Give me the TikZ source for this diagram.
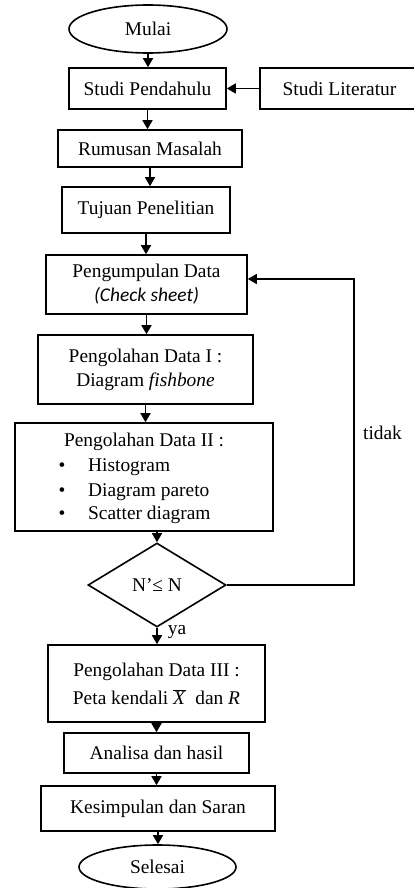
\documentclass[tikz,border=0pt]{standalone}
\usepackage{fontspec}
\setmainfont{Liberation Serif}
\newfontfamily\sheetfont{Carlito}
\usetikzlibrary{arrows.meta,shapes.geometric,calc}

\begin{document}
\begin{tikzpicture}[x=1pt,y=-1pt,
  font=\fontsize{19.4}{24}\selectfont,
  proses/.style={draw,line width=1.6pt,inner sep=0pt},
  ujung/.style={draw,ellipse,line width=1.6pt,inner sep=0pt},
  panah/.style={line width=1.6pt,-{Triangle[length=9pt,width=10pt]}}]
\useasboundingbox (0,0) rectangle (414,888);

\node[ujung,minimum width=158pt,minimum height=48pt] (mulai) at (148,29) {Mulai};
\node[proses,minimum width=157pt,minimum height=41pt] (pendahulu) at (147.5,88.5) {Studi Pendahulu};
\node[proses,minimum width=159pt,minimum height=41pt] (literatur) at (339.5,88.5) {Studi Literatur};
\node[proses,minimum width=184pt,minimum height=37pt] (rumusan) at (150,148.5) {Rumusan Masalah};
\node[proses,minimum width=168pt,minimum height=46pt] (tujuan) at (146,210) {Tujuan Penelitian};
\node[proses,minimum width=201pt,minimum height=59pt,align=center] (kumpul) at (146.5,284.5)
  {Pengumpulan Data\\{\sheetfont\itshape (Check sheet)}};
\node[proses,minimum width=215pt,minimum height=69pt,align=center] (olah1) at (145.5,369.5)
  {Pengolahan Data I :\\Diagram \textit{fishbone}};
\node[proses,minimum width=258pt,minimum height=108pt] (olah2) at (144,477) {};
\node (judul2) at (144,442) {Pengolahan Data II :};
\foreach \y/\isi in {467/Histogram,492/Diagram pareto,515/Scatter diagram}{
  \node (b\y) at (62,\y) {\textbullet};
  \node[anchor=west,inner sep=0pt] (t\y) at (88,\y) {\isi};
}
\node[draw,diamond,aspect=1.64,line width=1.6pt,inner sep=0pt,
  minimum width=138pt,minimum height=84pt] (cek) at (157,585) {N’≤ N};
\node[proses,minimum width=217pt,minimum height=77pt,align=center] (olah3) at (156.5,683.5)
  {Pengolahan Data III :\\[4pt]Peta kendali $\overline{\mbox{\textit{X}}}$\ \ dan \textit{R}};
\node[proses,minimum width=185pt,minimum height=40pt] (analisa) at (156.5,753) {Analisa dan hasil};
\node[proses,minimum width=234pt,minimum height=45pt] (simpul) at (158,808.5) {Kesimpulan dan Saran};
\node[ujung,minimum width=157pt,minimum height=44pt] (selesai) at (157.5,867) {Selesai};

\node (ya) at (177,632) {ya};
\node (tidak) at (382.5,433) {tidak};
\coordinate (balik) at (354,585);

% alur utama
\draw[panah] (mulai.south) -- (mulai.south |- pendahulu.north);
\draw[panah] (literatur) -- (pendahulu);
\draw[panah] (pendahulu.south) -- (pendahulu.south |- rumusan.north);
\draw[panah] (rumusan.south) -- (rumusan.south |- tujuan.north);
\draw[panah] (tujuan.south) -- (tujuan.south |- kumpul.north);
\draw[panah] (kumpul.south) -- (kumpul.south |- olah1.north);
\draw[panah] (olah1.south) -- (olah1.south |- olah2.north);
\draw[panah] (cek.north |- olah2.south) -- (cek.north);
\draw[panah] (cek.south) -- (cek.south |- olah3.north);
\draw[panah] (olah3.south) -- (olah3.south |- analisa.north);
\draw[panah] (analisa.south) -- (analisa.south |- simpul.north);
\draw[panah] (simpul.south) -- (simpul.south |- selesai.north);
% kembali
\draw[panah] (cek.east) -- (balik) |- ([yshift=5.5pt]kumpul.east);
\end{tikzpicture}
\end{document}
